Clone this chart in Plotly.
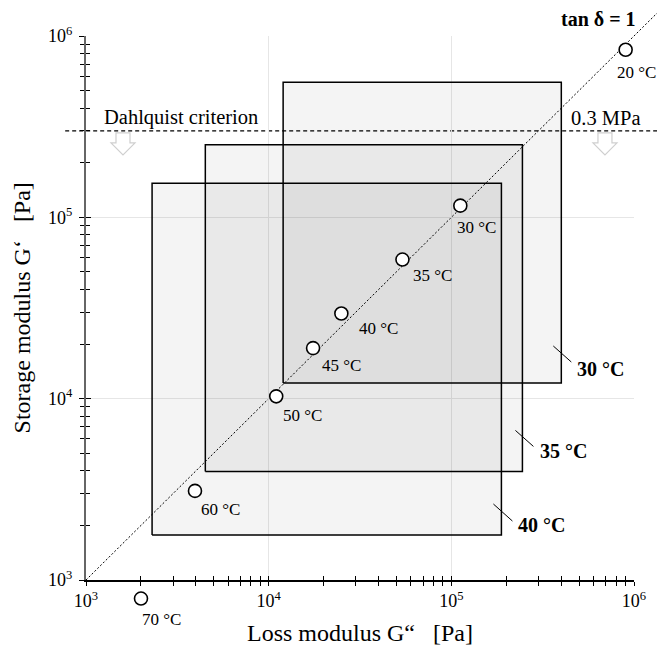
import math
import plotly.graph_objects as go

# Temperature sweep: loss modulus G'' and storage modulus G' (Pa)
temps = ["20 °C", "30 °C", "35 °C", "40 °C", "45 °C", "50 °C", "60 °C", "70 °C"]
loss_mod = [9.0e5, 1.12e5, 5.4e4, 2.5e4, 1.75e4, 1.1e4, 3.95e3, 2.0e3]
storage_mod = [8.4e5, 1.16e5, 5.85e4, 2.95e4, 1.9e4, 1.03e4, 3.1e3, 7.9e2]

# Viscoelastic windows at the application temperatures (Pa)
window_labels = ["30 °C", "35 °C", "40 °C"]
window_loss_lo = [1.2e4, 4.5e3, 2.3e3]
window_loss_hi = [4.0e5, 2.45e5, 1.88e5]
window_storage_lo = [1.22e4, 3.97e3, 1.77e3]
window_storage_hi = [5.55e5, 2.51e5, 1.54e5]

# Dahlquist tack criterion (Pa)
dahlquist_limit = 3e5

decade_ticks = [1e3, 1e4, 1e5, 1e6]
decade_text = ["10<sup>3</sup>", "10<sup>4</sup>", "10<sup>5</sup>", "10<sup>6</sup>"]
minor_ticks = [m * 10 ** e for e in (3, 4, 5) for m in range(2, 10)]

# ---- layout geometry -------------------------------------------------------
W, H = 657, 646
ML, MR, MT, MB = 86, 23, 36, 24
paper_w = W - ML - MR
paper_h = H - MT - MB
plot_bottom_px = 580
dy = (H - MB - plot_bottom_px) / paper_h        # main y-domain lower edge
log_lo, log_hi = 3.0, 6.0
decade_px_x = paper_w / (log_hi - log_lo)
decade_px_y = paper_h * (1 - dy) / (log_hi - log_lo)
# helper axis pair spanning the full paper, with the same log scale as the
# main axes, so readings below 10^3 are still placed on the scale
y2_lo = log_hi - (log_hi - log_lo) / (1 - dy)

SERIF = "Liberation Serif"
NB = "\u00a0"


def paper_x(v):
    return (math.log10(v) - log_lo) / (log_hi - log_lo)


def paper_y(v):
    return dy + (1 - dy) * (math.log10(v) - log_lo) / (log_hi - log_lo)


def nudge_x(v, px):
    """Value lying px screen pixels to the right of v on the log x axis."""
    return v * 10 ** (px / decade_px_x)


def nudge_y(v, px):
    """Value lying px screen pixels above v on the log y axis."""
    return v * 10 ** (px / decade_px_y)


fig = go.Figure()

# windows (translucent rectangles)
for lo, hi, slo, shi in zip(window_loss_lo, window_loss_hi,
                            window_storage_lo, window_storage_hi):
    fig.add_trace(go.Scatter(
        x=[lo, hi, hi, lo, lo], y=[slo, slo, shi, shi, slo],
        mode="lines", fill="toself", fillcolor="rgba(0,0,0,0.045)",
        line=dict(color="black", width=1.5), hoverinfo="skip",
        showlegend=False))

# leader lines from inside each window towards its label
# (pixel offsets from the window's lower-right corner)
leader_px = [(-8, 37, 10, 21), (-7, 41, 11, 25), (-8, 31, 11, 14)]
for hi, slo, (ax0, ay0, ax1, ay1) in zip(window_loss_hi, window_storage_lo,
                                         leader_px):
    fig.add_trace(go.Scatter(
        x=[nudge_x(hi, ax0), nudge_x(hi, ax1)],
        y=[nudge_y(slo, ay0), nudge_y(slo, ay1)],
        mode="lines", line=dict(color="black", width=1),
        hoverinfo="skip", showlegend=False))

# measured points
fig.add_trace(go.Scatter(
    x=loss_mod, y=storage_mod, xaxis="x2", yaxis="y2", mode="markers",
    marker=dict(symbol="circle", size=13, color="white",
                line=dict(color="black", width=1.6)),
    cliponaxis=False, showlegend=False, hoverinfo="skip"))

# carrier for the inner tick set of the y axis
fig.add_trace(go.Scatter(x=[None], y=[None], xaxis="x", yaxis="y3",
                         showlegend=False, hoverinfo="skip"))

tickfont = dict(family=SERIF, size=18, color="black")
minor_out = dict(tickmode="array", tickvals=minor_ticks, ticks="outside",
                 ticklen=4, tickwidth=1, tickcolor="black", showgrid=False)
minor_in = dict(tickmode="array", tickvals=minor_ticks, ticks="inside",
                ticklen=4, tickwidth=1, tickcolor="black", showgrid=False)

fig.update_layout(
    width=W, height=H,
    margin=dict(l=ML, r=MR, t=MT, b=MB),
    paper_bgcolor="white", plot_bgcolor="rgba(0,0,0,0)",
    showlegend=False,
    xaxis=dict(type="log", range=[log_lo, log_hi], domain=[0, 1], anchor="y",
               tickmode="array", tickvals=decade_ticks, ticktext=decade_text,
               ticks="outside", ticklen=4, tickwidth=1.2, tickcolor="black",
               showline=True, linecolor="black", linewidth=1.5,
               showgrid=True, gridcolor="#e6e6e6", gridwidth=1,
               zeroline=False, minor=minor_out, tickfont=tickfont),
    yaxis=dict(type="log", range=[log_lo, log_hi], domain=[dy, 1], anchor="x",
               tickmode="array", tickvals=decade_ticks, ticktext=decade_text,
               ticks="outside", ticklen=5, tickwidth=1.2, tickcolor="black",
               showline=True, linecolor="#666666", linewidth=2,
               showgrid=True, gridcolor="#e6e6e6", gridwidth=1,
               zeroline=False, minor=dict(minor_out, ticklen=4),
               tickfont=tickfont, ticklabelstandoff=3),
    xaxis2=dict(type="log", range=[log_lo, log_hi], domain=[0, 1],
                anchor="free", position=dy,
                tickmode="array", tickvals=decade_ticks,
                ticks="inside", ticklen=4, tickwidth=1.2, tickcolor="black",
                showticklabels=False, showgrid=False, showline=False,
                zeroline=False, minor=minor_in),
    yaxis2=dict(type="log", range=[y2_lo, log_hi], domain=[0, 1],
                anchor="x2", visible=False),
    yaxis3=dict(type="log", range=[log_lo, log_hi], overlaying="y",
                anchor="x", side="left",
                tickmode="array", tickvals=decade_ticks,
                ticks="inside", ticklen=5, tickwidth=1.2, tickcolor="black",
                showticklabels=False, showgrid=False, showline=False,
                zeroline=False, minor=minor_in),
)

shapes = []
# tan(delta) = 1 line, G' = G''
diag_end = 10 ** 6.2
shapes.append(dict(type="line", xref="paper", yref="paper",
                   x0=paper_x(1e3), y0=paper_y(1e3),
                   x1=paper_x(diag_end), y1=paper_y(diag_end),
                   line=dict(color="black", width=1, dash="2px,2px"),
                   layer="below"))
# Dahlquist criterion
shapes.append(dict(type="line", xref="paper", yref="y",
                   x0=-0.038, x1=1.05, y0=dahlquist_limit, y1=dahlquist_limit,
                   line=dict(color="black", width=1.2, dash="4px,3px"),
                   layer="below"))
# hollow arrows below the criterion line
arrow_path = "M -7,-2 L 7,-2 L 7,-12 L 12,-12 L 0,-24 L -12,-12 L -7,-12 Z"
for ax_pos in (0.0675, 0.947):
    shapes.append(dict(type="path", xref="paper", yref="y",
                       xsizemode="pixel", ysizemode="pixel",
                       xanchor=ax_pos, yanchor=dahlquist_limit,
                       path=arrow_path, fillcolor="white",
                       line=dict(color="#cfcfcf", width=1.2)))
fig.update_layout(shapes=shapes)

annotations = []
# temperature labels next to each point
label_offsets = [(11, 23), (16, 22), (30, 16), (37, 15),
                 (28, 17), (26, 19), (26, 19), (21, 21)]
for t, gl, gs, (ox, oy) in zip(temps, loss_mod, storage_mod, label_offsets):
    annotations.append(dict(
        x=math.log10(gl), y=math.log10(gs), xref="x2", yref="y2",
        text=t, showarrow=False, xshift=ox, yshift=-oy,
        font=dict(family=SERIF, size=17, color="black")))

# window labels (pixel offsets from the window's lower-right corner)
window_label_shift = [(39, 14), (41, 20), (40, 10)]
for lab, hi, slo, (sx, sy) in zip(window_labels, window_loss_hi,
                                  window_storage_lo, window_label_shift):
    annotations.append(dict(
        x=math.log10(hi), y=math.log10(slo), xref="x", yref="y",
        xshift=sx, yshift=sy, text="<b>" + lab + "</b>", showarrow=False,
        xanchor="center", yanchor="middle",
        font=dict(family=SERIF, size=20, color="black")))

annotations += [
    dict(x=1.007, y=1.029, xref="paper", yref="paper", xanchor="right",
         yanchor="middle", showarrow=False, text="<b>tan δ = 1</b>",
         font=dict(family=SERIF, size=20, color="black")),
    dict(x=0.029, y=math.log10(dahlquist_limit), xref="paper", yref="y",
         xanchor="left", yanchor="bottom", yshift=0, showarrow=False,
         text="Dahlquist criterion",
         font=dict(family=SERIF, size=20.5, color="black")),
    dict(x=1.015, y=math.log10(dahlquist_limit), xref="paper", yref="y",
         xanchor="right", yanchor="bottom", yshift=0, showarrow=False,
         text="0.3 MPa", font=dict(family=SERIF, size=20.5, color="black")),
    dict(x=0.5, y=-0.019, xref="paper", yref="paper", xanchor="center",
         yanchor="middle", showarrow=False,
         text="Loss modulus G“" + NB * 3 + "[Pa]",
         font=dict(family=SERIF, size=24, color="black")),
    dict(x=-0.116, y=(dy + 1) / 2, xref="paper", yref="paper",
         xanchor="center", yanchor="middle", showarrow=False, textangle=-90,
         text="Storage modulus G‘" + NB * 3 + "[Pa]",
         font=dict(family=SERIF, size=24, color="black")),
]
fig.update_layout(annotations=annotations)

fig.write_html("out.html", config={"displayModeBar": False})
